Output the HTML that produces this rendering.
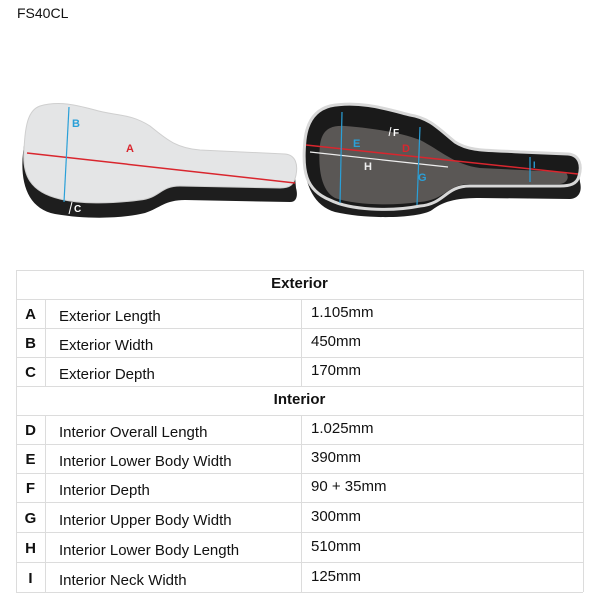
<!DOCTYPE html>
<html><head><style>
body{margin:0;width:600px;height:600px;background:#fff;font-family:"Liberation Sans",sans-serif;position:relative;overflow:hidden}
.t{position:absolute;color:#111;white-space:nowrap}
.hl{position:absolute;left:16px;width:567px;height:1px;background:#dcdcdc}
.vl{position:absolute;width:1px;background:#dcdcdc}
.r{position:absolute;left:16px;width:567px;height:29px;font-size:15px;color:#111}
.r .l{position:absolute;left:0;width:29px;text-align:center;font-weight:bold;top:7px}
.r .n{position:absolute;left:43px;top:9px}
.r .v{position:absolute;left:295px;top:5px}
.r .h{position:absolute;left:0;width:567px;text-align:center;font-weight:bold;top:5px}
</style></head><body>
<div class="t" style="left:17px;top:5px;font-size:14px">FS40CL</div>
<svg width="600" height="260" style="position:absolute;left:0;top:0">
<path d="M25,140 C18,175 24,208 55,214 C90,220 125,218 145,213 C160,208 165,200 185,200 L290,202 C297,202 298,195 296,188 L294,166 L28,150 Z" fill="#1e1e1e"/>
<path d="M40,106 C60,100 80,106 95,110 C115,116 130,113 150,126 C165,138 175,148 200,150 L285,154 C296,155 298,165 296,175 C294,185 290,188 280,188 L180,186 C160,186 160,198 140,200 C110,204 80,204 60,199 C30,192 22,175 24,150 C25,126 28,110 40,106 Z" fill="#e4e5e6" stroke="#cfcfcf"/>
<line x1="27" y1="153" x2="295" y2="183" stroke="#d9262e" stroke-width="1.5"/>
<line x1="69" y1="107" x2="64" y2="202" stroke="#2aa0d8" stroke-width="1.2"/>
<text x="72" y="127" fill="#2aa0d8" font-size="11" font-weight="bold">B</text>
<text x="126" y="152" fill="#d9262e" font-size="11" font-weight="bold">A</text>
<line x1="72" y1="202" x2="69" y2="214" stroke="#fff"/>
<text x="74" y="212" fill="#fff" font-size="10" font-weight="bold">C</text>
<path d="M306,140 C300,175 310,205 335,212 C370,220 420,218 432,210 C445,200 460,198 480,198 L570,199 C580,198 582,190 580,182 L578,165 L306,150 Z" fill="#1e1e1e"/>
<path d="M330,106 C360,100 390,110 410,115 C430,118 440,130 455,142 C470,152 490,150 520,152 L568,154 C580,155 582,166 579,176 C577,184 570,186 560,186 L470,186 C445,186 445,204 420,206 C390,212 350,210 330,200 C305,190 302,170 305,140 C307,122 315,110 330,106 Z" fill="#1a1a1a" stroke="#d8d8d8" stroke-width="3"/>
<path d="M320,145 C322,130 330,125 345,126 C370,128 400,132 420,140 C440,150 455,165 480,168 L565,172 C570,176 568,183 560,184 L470,184 C448,184 445,200 420,202 C390,206 355,205 335,198 C320,190 318,165 320,145 Z" fill="#5a5755"/>
<line x1="306" y1="145" x2="578" y2="174" stroke="#d9262e" stroke-width="1.5"/>
<line x1="310" y1="152" x2="448" y2="167" stroke="#eee" stroke-width="1.2"/>
<line x1="342" y1="112" x2="340" y2="203" stroke="#2aa0d8" stroke-width="1.2"/>
<line x1="420" y1="127" x2="417" y2="205" stroke="#2aa0d8" stroke-width="1.2"/>
<line x1="530" y1="157" x2="530" y2="182" stroke="#2aa0d8" stroke-width="1.2"/>
<text x="353" y="147" fill="#2aa0d8" font-size="11" font-weight="bold">E</text>
<text x="402" y="152" fill="#d9262e" font-size="11" font-weight="bold">D</text>
<text x="364" y="170" fill="#eee" font-size="11" font-weight="bold">H</text>
<text x="418" y="181" fill="#2aa0d8" font-size="11" font-weight="bold">G</text>
<text x="533" y="168" fill="#2aa0d8" font-size="9" font-weight="bold">I</text>
<line x1="391" y1="127" x2="389" y2="136" stroke="#fff"/>
<text x="393" y="136" fill="#fff" font-size="10" font-weight="bold">F</text>
</svg>
<!-- grid -->
<div class="hl" style="top:270px"></div>
<div class="hl" style="top:299px"></div>
<div class="hl" style="top:328px"></div>
<div class="hl" style="top:357px"></div>
<div class="hl" style="top:386px"></div>
<div class="hl" style="top:415px"></div>
<div class="hl" style="top:444px"></div>
<div class="hl" style="top:473px"></div>
<div class="hl" style="top:502px"></div>
<div class="hl" style="top:532px"></div>
<div class="hl" style="top:562px"></div>
<div class="hl" style="top:592px"></div>
<div class="vl" style="left:16px;top:270px;height:322px"></div>
<div class="vl" style="left:583px;top:270px;height:322px"></div>
<div class="vl" style="left:45px;top:299px;height:87px"></div>
<div class="vl" style="left:301px;top:299px;height:87px"></div>
<div class="vl" style="left:45px;top:415px;height:177px"></div>
<div class="vl" style="left:301px;top:415px;height:177px"></div>
<div class="r" style="top:270px"><span class="h">Exterior</span></div>
<div class="r" style="top:299px"><span class="l">A</span><span class="n">Exterior Length</span><span class="v">1.105mm</span></div>
<div class="r" style="top:328px"><span class="l">B</span><span class="n">Exterior Width</span><span class="v">450mm</span></div>
<div class="r" style="top:357px"><span class="l">C</span><span class="n">Exterior Depth</span><span class="v">170mm</span></div>
<div class="r" style="top:386px"><span class="h">Interior</span></div>
<div class="r" style="top:415px"><span class="l">D</span><span class="n">Interior Overall Length</span><span class="v">1.025mm</span></div>
<div class="r" style="top:444px"><span class="l">E</span><span class="n">Interior Lower Body Width</span><span class="v">390mm</span></div>
<div class="r" style="top:473px"><span class="l">F</span><span class="n">Interior Depth</span><span class="v">90 + 35mm</span></div>
<div class="r" style="top:503px"><span class="l">G</span><span class="n">Interior Upper Body Width</span><span class="v">300mm</span></div>
<div class="r" style="top:533px"><span class="l">H</span><span class="n">Interior Lower Body Length</span><span class="v">510mm</span></div>
<div class="r" style="top:563px"><span class="l">I</span><span class="n">Interior Neck Width</span><span class="v">125mm</span></div>
</body></html>
